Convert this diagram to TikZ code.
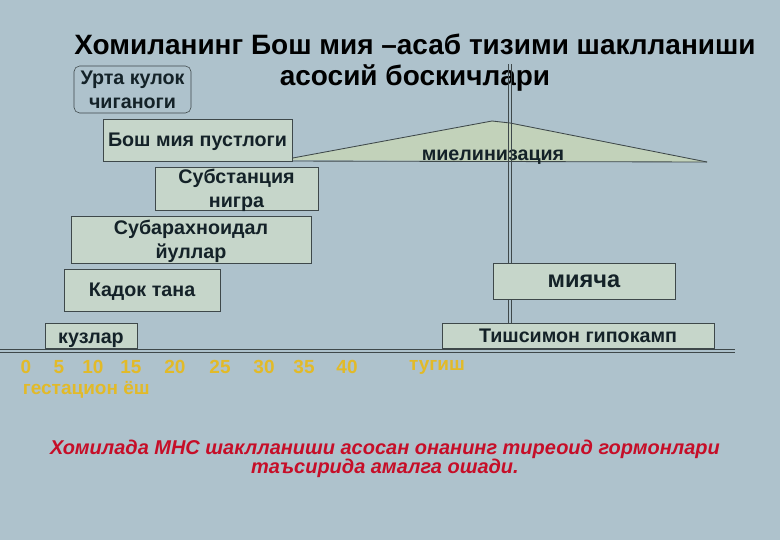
\documentclass[tikz,border=0pt]{standalone}
\usepackage{fontspec}
\setmainfont{Liberation Sans}
\usepackage{tikz}
\usetikzlibrary{positioning,calc}
\definecolor{bggray}{RGB}{174,194,204}
\definecolor{boxfill}{RGB}{198,214,202}
\definecolor{boxline}{RGB}{62,72,74}
\definecolor{txtdark}{RGB}{20,34,40}
\definecolor{agegold}{RGB}{226,186,40}
\definecolor{notered}{RGB}{198,14,40}
\definecolor{myelfill}{RGB}{194,210,186}
\tikzset{
  stage/.style={rectangle,draw=boxline,fill=boxfill,text=txtdark,align=center,
                font=\bfseries\fontsize{14}{17}\selectfont,inner sep=1pt,text depth=0pt},
  rstage/.style={stage,fill=bggray,rounded corners=4pt},
  ttl/.style={align=center,text=black,font=\bfseries\fontsize{19.9}{22}\selectfont},
  tick/.style={text=agegold,font=\bfseries\fontsize{13.5}{15}\selectfont},
  note/.style={align=center,text=notered,font=\bfseries\itshape\fontsize{14.2}{13.6}\selectfont},
  rule/.style={draw=boxline,line width=0.6pt},
}

\begin{document}
\begin{tikzpicture}[x=0.025cm,y=-0.025cm]
  % ── background, fixes the page size ──
  \fill[bggray] (0,0) rectangle (780,540);
  \useasboundingbox (0,0) rectangle (780,540);
  % ── title ──
  \node[ttl] (title) at (415,63) {Хомиланинг Бош мия –асаб тизими шаклланиши\\асосий боскичлари};
  % ── myelination wedge and the birth marker (drawn under the boxes) ──
  \fill[myelfill] (282,160) -- (492,121) -- (510,123) -- (707,162) -- cycle;
  \draw[rule] (282,160) -- (492,121) -- (510,123) -- (707,162);
  \draw[rule] (282,161) -- (707,162);
  \node[stage,draw=none,fill=none] (myel) at (493,155) {миелинизация};
  \draw[rule] (508,64) -- (508,323);
  \draw[rule] (511,64) -- (511,323);
  % ── structures, left column: before birth ──
  \node[rstage,minimum width=2.925cm,minimum height=1.175cm] (ear)      at (132.5,89.5) {Урта кулок\\чиганоги};
  \node[stage,minimum width=4.725cm,minimum height=1.05cm]   (cortex)   at (197.5,140)  {Бош мия пустлоги};
  \node[stage,minimum width=4.075cm,minimum height=1.075cm]  (nigra)    at (236.5,188.5){Субстанция\\нигра};
  \node[stage,minimum width=6.0cm,minimum height=1.175cm]    (subarach) at (191,239.5)  {Субарахноидал\\йуллар};
  \node[stage,minimum width=3.9cm,minimum height=1.05cm]     (caudate)  at (142,290)    {Кадок тана};
  \node[stage,minimum width=2.3cm,minimum height=0.625cm]    (eyes)     at (91,335.5)   {\raisebox{-3.5pt}{кузлар}};
  % ── structures after birth ──
  \node[stage,minimum width=4.55cm,minimum height=0.9cm,font=\bfseries\fontsize{16.8}{18}\selectfont] (cereb) at (584,281) {мияча};
  \node[stage,minimum width=6.8cm,minimum height=0.625cm]    (hippo)    at (578,335.5)  {Тишсимон гипокамп};
  % ── time axis ──
  \draw[rule] (0,349) -- (735,349);
  \draw[rule] (0,352) -- (735,352);
  \foreach \x/\w [count=\i] in {26/0,59/5,93/10,131/15,175/20,220/25,264/30,304/35,347/40,437/тугиш}
    \node[tick] (t\i) at (\x,367) {\w};
  \node[tick,anchor=west] (age) at (18,390) {гестацион ёш};
  % ── note ──
  \node[note] (note) at (385,459) {Хомилада МНС шаклланиши асосан онанинг тиреоид гормонлари\\таъсирида амалга ошади.};
\end{tikzpicture}
\end{document}
